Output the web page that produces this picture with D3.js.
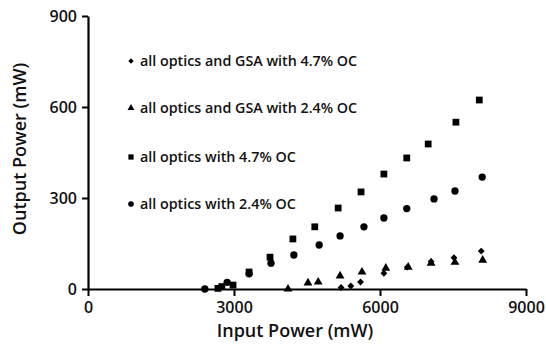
<!DOCTYPE html>
<html>
<head>
<meta charset="utf-8">
<script src="https://cdn.jsdelivr.net/npm/d3@7"></script>
<style>
  body { margin: 0; background: #fff; }
  svg text { font-family: "Open Sans", sans-serif; fill: #111; }
</style>
</head>
<body>
<svg id="chart" width="546" height="346"></svg>
<script>
// series: [input mW, output mW]
const gsa47 = [[5200, 5], [5400, 10], [5600, 23], [6080, 52], [6560, 72], [7050, 91], [7520, 103], [8080, 125]];
const gsa24 = [[4110, 0], [4520, 20], [4730, 23], [5180, 43], [5630, 56], [6120, 69], [6580, 72], [7050, 85], [7540, 88], [8110, 95]];
const optics47 = [[2670, 2], [2750, 8], [2980, 13], [3310, 56], [3740, 105], [4210, 165], [4660, 205], [5140, 267],
  [5610, 320], [6080, 379], [6550, 432], [6990, 478], [7560, 550], [8040, 623]];
const optics24 = [[2400, 0], [2860, 22], [3310, 50], [3760, 85], [4230, 112], [4750, 145], [5180, 175], [5670, 205],
  [6080, 234], [6550, 265], [7110, 297], [7540, 323], [8100, 369]];

const seriesNames = ["all optics and GSA with 4.7% OC", "all optics and GSA with 2.4% OC",
  "all optics with 4.7% OC", "all optics with 2.4% OC"];
const xTicks = [0, 3000, 6000, 9000];
const yTicks = [0, 300, 600, 900];

const series = [
  { name: seriesNames[0], data: gsa47, shape: d3.symbolDiamond2, size: 30 },
  { name: seriesNames[1], data: gsa24, shape: d3.symbolTriangle, size: 34 },
  { name: seriesNames[2], data: optics47, shape: d3.symbolSquare, size: 46 },
  { name: seriesNames[3], data: optics24, shape: d3.symbolCircle, size: 42 }
];

const svg = d3.select("#chart");
const x = d3.scaleLinear().domain([0, 9000]).range([88, 526]);
const y = d3.scaleLinear().domain([0, 900]).range([289, 16]);

const xAxis = svg.append("g")
  .attr("transform", `translate(0,${y(0)})`)
  .call(d3.axisBottom(x).tickValues(xTicks).tickFormat(d3.format("d"))
    .tickSize(7).tickSizeOuter(0).tickPadding(6));
const yAxis = svg.append("g")
  .attr("transform", `translate(${x(0)},0)`)
  .call(d3.axisLeft(y).tickValues(yTicks).tickFormat(d3.format("d"))
    .tickSize(6).tickSizeOuter(0).tickPadding(5));

[xAxis, yAxis].forEach(g => {
  g.select(".domain").attr("stroke", "#000").attr("stroke-width", 2.2);
  g.selectAll(".tick line").attr("stroke", "#000").attr("stroke-width", 2);
  g.selectAll(".tick text").attr("font-size", 16).attr("font-weight", 600)
    .attr("font-family", "'Open Sans', sans-serif").attr("fill", "#111");
});

svg.append("text")
  .attr("x", 295).attr("y", 337)
  .attr("text-anchor", "middle")
  .attr("font-size", 18).attr("font-weight", 600)
  .text("Input Power (mW)");

svg.append("text")
  .attr("transform", `translate(26,149) rotate(-90)`)
  .attr("text-anchor", "middle")
  .attr("font-size", 18).attr("font-weight", 600)
  .text("Output Power (mW)");

// markers
series.forEach(s => {
  svg.append("g").selectAll("path")
    .data(s.data)
    .join("path")
    .attr("transform", d => `translate(${x(d[0])},${y(d[1])})`)
    .attr("d", d3.symbol(s.shape, s.size))
    .attr("fill", "#000");
});

// legend
const legendY = [61, 108, 157, 204];
const legend = svg.append("g");
series.forEach((s, i) => {
  legend.append("path")
    .attr("transform", `translate(131,${legendY[i]})`)
    .attr("d", d3.symbol(s.shape, s.size * 0.6))
    .attr("fill", "#000");
  legend.append("text")
    .attr("x", 140).attr("y", legendY[i])
    .attr("dy", "0.35em")
    .attr("font-size", 14.3).attr("font-weight", 600)
    .text(s.name);
});
</script>
</body>
</html>
